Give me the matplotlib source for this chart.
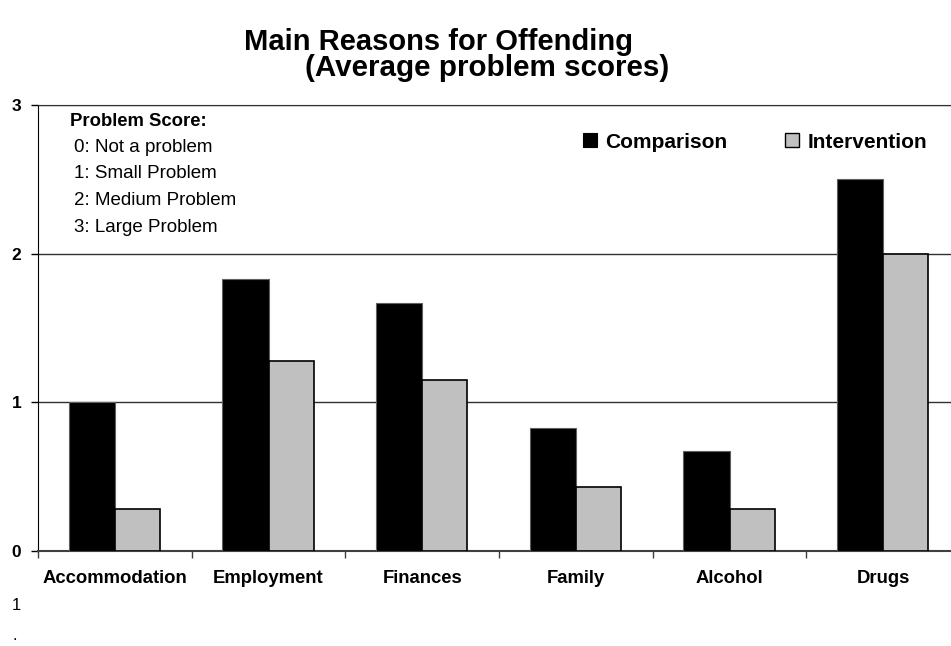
import numpy as np
import matplotlib.pyplot as plt
from matplotlib.patches import Patch
from matplotlib.ticker import FixedLocator

plt.rcParams['font.family'] = ['Liberation Sans', 'DejaVu Sans']

# DATA
categories = ["Accommodation", "Employment", "Finances", "Family", "Alcohol", "Drugs"]
comparison = [1.0, 1.83, 1.67, 0.83, 0.67, 2.5]
intervention = [0.28, 1.28, 1.15, 0.43, 0.28, 2.0]
score_lines = ["0: Not a problem", "1: Small Problem", "2: Medium Problem", "3: Large Problem"]

W, H = 951, 646
fig = plt.figure(figsize=(W/100, H/100), dpi=100)

# axes placed in pixel terms of the reference
left, right, top, bottom = 38, 960, 105, 551
ax = fig.add_axes([left/W, 1-bottom/H, (right-left)/W, (bottom-top)/H])

x = np.arange(len(categories))
ax.bar(x-0.15, comparison, width=0.3, color="black", edgecolor="#606060", lw=0.8, zorder=3)
ax.bar(x+0.147, intervention, width=0.294, color="#c0c0c0", edgecolor="black", lw=1.2, zorder=3)

ax.set_xlim(-0.5, 5.5)
ax.set_ylim(0, 3)

# y axis
ax.set_yticks([0, 1, 2, 3])
ax.set_yticklabels(["0", "1", "2", "3"], fontweight="bold", fontsize=12.5)
ax.tick_params(axis="y", direction="out", length=5, width=1, pad=7)
ax.yaxis.grid(True, color="#303030", lw=1)
ax.set_axisbelow(True)

# x axis: labels at centres, ticks at group edges
ax.set_xticks(x)
ax.set_xticklabels(categories, fontweight="bold", fontsize=13.3)
ax.tick_params(axis="x", which="major", length=0, pad=14)
ax.xaxis.set_minor_locator(FixedLocator(np.arange(-0.5, 6, 1)))
ax.tick_params(axis="x", which="minor", direction="out", length=5, width=1, color="#404040")

ax.spines["right"].set_visible(False)
ax.spines["top"].set_color("#303030")
ax.spines["left"].set_color("black")
ax.spines["bottom"].set_color("#404040")
ax.spines["bottom"].set_linewidth(1.5)

# title
fig.text(438/W, 1-42/H, "Main Reasons for Offending", ha="center", va="center",
         fontsize=21, fontweight="bold")
fig.text(487/W, 1-68/H, "(Average problem scores)", ha="center", va="center",
         fontsize=21.3, fontweight="bold")

# problem score key
fig.text(70/W, 1-121/H, "Problem Score:", ha="left", va="center", fontsize=13.3, fontweight="bold")
for i, line in enumerate(score_lines):
    fig.text(74/W, 1-(147+26.7*i)/H, line, ha="left", va="center", fontsize=13.5)

# legend
handles = [Patch(facecolor="black", edgecolor="black", lw=0.8),
           Patch(facecolor="#c0c0c0", edgecolor="black", lw=1)]
fig.legend(handles, ["Comparison", "Intervention"], ncol=2, frameon=False,
           loc="center left", bbox_to_anchor=(583/W, 1-142/H), bbox_transform=fig.transFigure,
           borderpad=0, borderaxespad=0, handlelength=0.65, handleheight=0.65,
           handletextpad=0.4, columnspacing=2.8,
           prop={"weight": "bold", "size": 15})

# stray marks in the lower left corner
fig.text(12/W, 1-606/H, "1", ha="left", va="center", fontsize=12)
fig.text(12/W, 3/H, ".", ha="left", va="bottom", fontsize=12)

fig.savefig("out.png", dpi=100)
